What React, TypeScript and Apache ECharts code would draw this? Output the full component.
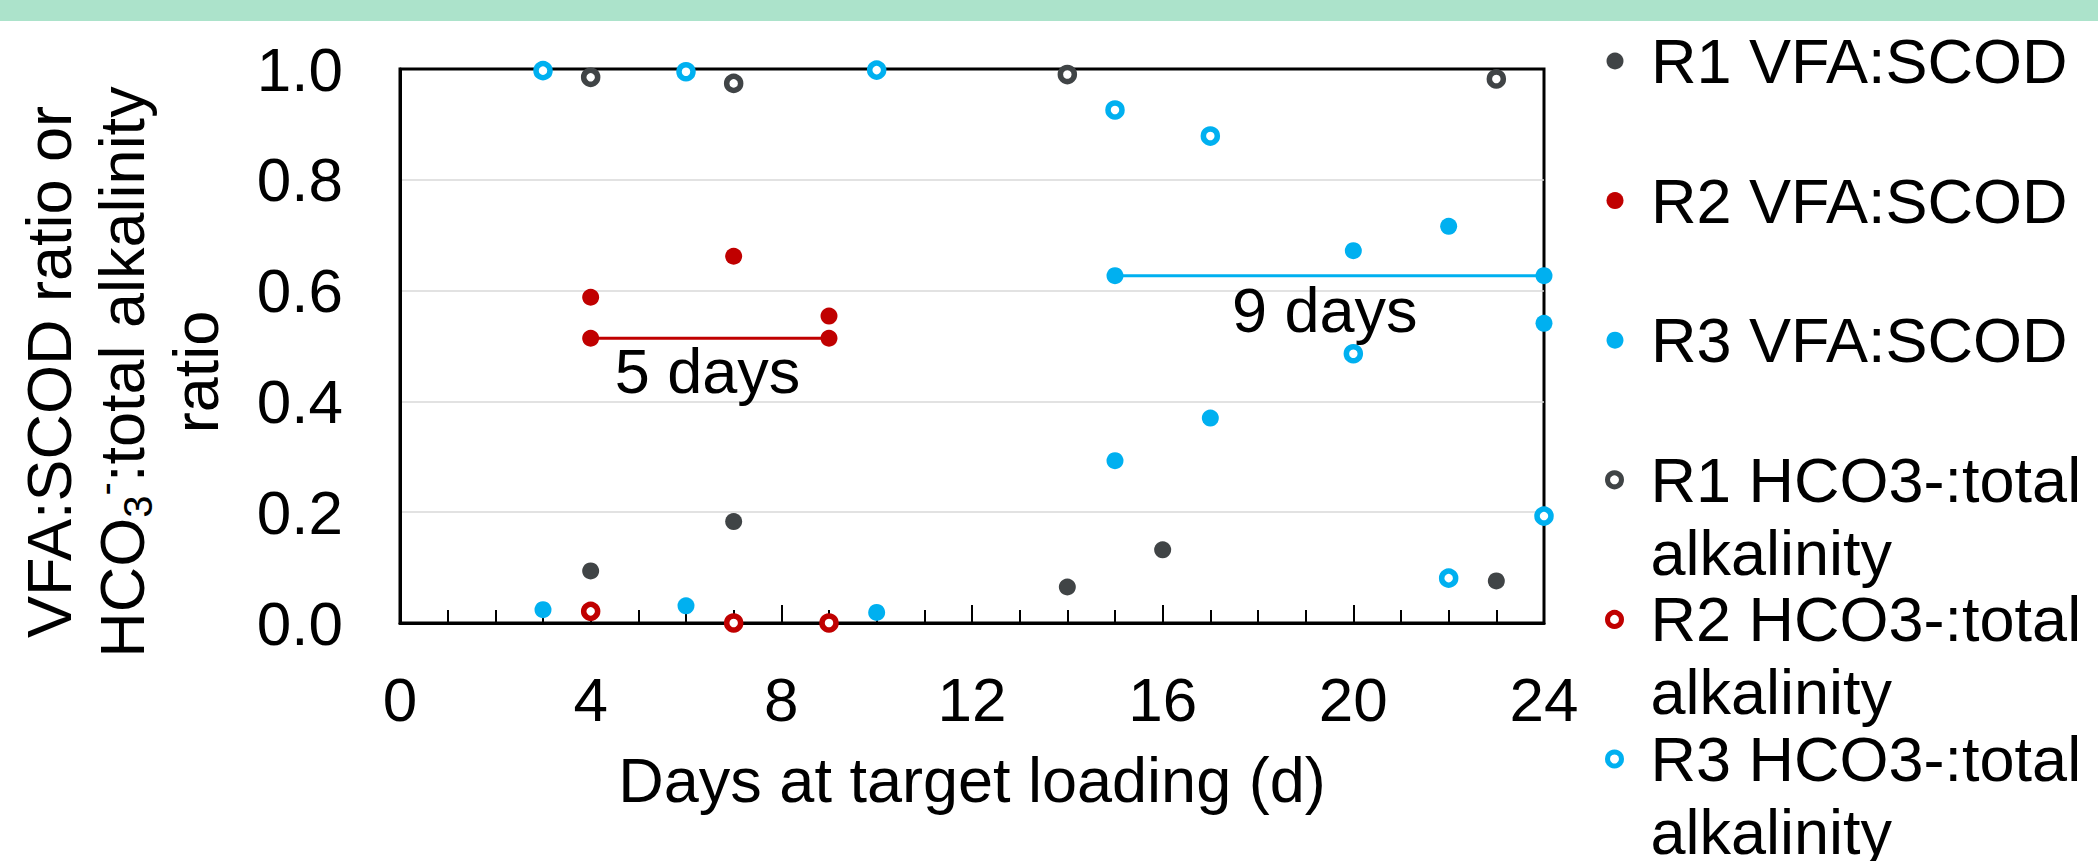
import React, { useEffect, useRef } from "react";
import * as echarts from "echarts";

const FONT = '"Liberation Sans", Arial, Helvetica, sans-serif';

// ---- data ----
const R1_VFA_DAYS = [4, 7, 14, 16, 23];
const R1_VFA = [0.094, 0.183, 0.065, 0.132, 0.076];

const R2_VFA_DAYS = [4, 7, 9];
const R2_VFA = [0.588, 0.662, 0.554];

const R3_VFA_DAYS = [3, 6, 10, 15, 17, 20, 22, 24];
const R3_VFA = [0.024, 0.031, 0.019, 0.293, 0.37, 0.672, 0.716, 0.541];

const R1_HCO3_DAYS = [4, 7, 14, 23];
const R1_HCO3 = [0.985, 0.974, 0.99, 0.982];

const R2_HCO3_DAYS = [4, 7, 9];
const R2_HCO3 = [0.021, 0.0, 0.0];

const R3_HCO3_DAYS = [3, 6, 10, 15, 17, 20, 22, 24];
const R3_HCO3 = [0.997, 0.995, 0.998, 0.926, 0.879, 0.486, 0.081, 0.193];

const SPAN5_DAYS = [4, 9];
const SPAN5_VALUE = 0.514;
const SPAN9_DAYS = [15, 24];
const SPAN9_VALUE = 0.627;

const ANNOT_TEXT = ["5 days", "9 days"];
const ANNOT_DAYS = [6.45, 19.4];
const ANNOT_VALUES = [0.455, 0.565];

const SERIES_NAMES = [
  "R1 VFA:SCOD",
  "R2 VFA:SCOD",
  "R3 VFA:SCOD",
  "R1 HCO3-:total alkalinity",
  "R2 HCO3-:total alkalinity",
  "R3 HCO3-:total alkalinity",
];

const X_MIN = 0;
const X_MAX = 24;
const X_INTERVAL = 4;
const Y_MIN = 0;
const Y_MAX = 1;
const Y_INTERVAL = 0.2;

const X_TITLE = "Days at target loading (d)";

// ---- styles ----
const GRAY = "#404446";
const RED = "#C00000";
const BLUE = "#00B0F0";

const zip = (xs: number[], ys: number[]) => xs.map((x, i) => [x, ys[i]]);

function filledSeries(name: string, color: string, days: number[], vals: number[]) {
  return {
    type: "scatter",
    name,
    data: zip(days, vals),
    symbol: "circle",
    symbolSize: 17,
    itemStyle: { color, borderWidth: 0, opacity: 1 },
    clip: false,
    silent: true,
    z: 3,
  };
}

function hollowSeries(name: string, color: string, days: number[], vals: number[]) {
  return {
    type: "scatter",
    name,
    data: zip(days, vals),
    symbol: "circle",
    symbolSize: 14,
    itemStyle: { color: "#ffffff", borderColor: color, borderWidth: 5.5, opacity: 1 },
    clip: false,
    silent: true,
    z: 4,
  };
}

function spanSeries(name: string, color: string, days: number[], value: number) {
  return {
    type: "line",
    name,
    data: days.map((d) => [d, value]),
    symbol: "circle",
    symbolSize: 17,
    showSymbol: true,
    lineStyle: { color, width: 3 },
    itemStyle: { color, opacity: 1 },
    clip: false,
    silent: true,
    z: 3,
  };
}

const LEGEND_CENTERS = [61, 200.6, 340.2, 479.8, 619.4, 759];
const LEGEND_LH = 73;

function buildLegends() {
  return SERIES_NAMES.map((name, i) => {
    const twoLine = name.indexOf("alkalinity") >= 0;
    const hollow = i >= 3;
    return {
      data: [{ name, icon: "circle" }],
      orient: "vertical",
      left: hollow ? 1605 : 1606.5,
      top: LEGEND_CENTERS[i] - (twoLine ? LEGEND_LH * 1.5 : LEGEND_LH / 2),
      padding: 0,
      itemWidth: 62,
      itemHeight: hollow ? 14 : 17,
      itemStyle: { borderWidth: hollow ? 5 : 0, opacity: 1 },
      selectedMode: false,
      formatter: (n: string) =>
        n.indexOf(" alkalinity") >= 0 ? " \n" + n.replace(" alkalinity", "\nalkalinity") : n,
      textStyle: {
        fontSize: 63,
        fontFamily: FONT,
        color: "#000",
        lineHeight: LEGEND_LH,
      },
    };
  });
}

export default function App() {
  const ref = useRef<HTMLDivElement>(null);

  useEffect(() => {
    document.body.style.margin = "0";
    const chart = echarts.init(ref.current as HTMLDivElement, null, { renderer: "svg" });

    const option: any = {
      animation: false,
      backgroundColor: "#ffffff",
      grid: {
        left: 400,
        top: 69,
        right: 554,
        bottom: 238,
        show: true,
        borderColor: "#000",
        borderWidth: 3,
        backgroundColor: "transparent",
      },
      xAxis: {
        type: "value",
        min: X_MIN,
        max: X_MAX,
        interval: X_INTERVAL,
        axisLine: { show: true, onZero: false, lineStyle: { color: "#000", width: 3 } },
        axisTick: { show: true, inside: true, length: 18, lineStyle: { color: "#000", width: 2 } },
        minorTick: { show: true, splitNumber: 4, length: 13, lineStyle: { color: "#000", width: 2 } },
        splitLine: { show: false },
        axisLabel: { fontSize: 62, fontFamily: FONT, color: "#000", margin: 45 },
        name: X_TITLE,
        nameLocation: "middle",
        nameGap: 125,
        nameTextStyle: { fontSize: 63, fontFamily: FONT, color: "#000" },
      },
      yAxis: {
        type: "value",
        min: Y_MIN,
        max: Y_MAX,
        interval: Y_INTERVAL,
        axisLine: { show: true, lineStyle: { color: "#000", width: 3 } },
        axisTick: { show: false },
        splitLine: {
          show: true,
          showMinLine: false,
          showMaxLine: false,
          lineStyle: { color: "#D9D9D9", width: 1.5 },
        },
        axisLabel: {
          fontSize: 62,
          fontFamily: FONT,
          color: "#000",
          margin: 57,
          formatter: (v: number) => v.toFixed(1),
        },
      },
      legend: buildLegends(),
      graphic: [
        { type: "rect", left: 0, top: 0, shape: { x: 0, y: 0, width: 2098, height: 21 }, style: { fill: "#ACE3CB" }, silent: true },
        {
          type: "text",
          x: 48.5,
          y: 372,
          rotation: Math.PI / 2,
          silent: true,
          style: {
            text: "VFA:SCOD ratio or",
            fontSize: 63,
            fontFamily: FONT,
            fill: "#000",
            align: "center",
            verticalAlign: "middle",
          },
        },
        {
          type: "text",
          x: 121.5,
          y: 372,
          rotation: Math.PI / 2,
          silent: true,
          style: {
            text: "HCO{sub|3}{sup|-}:total alkalinity",
            fontSize: 63,
            fontFamily: FONT,
            fill: "#000",
            lineHeight: 73,
            align: "center",
            verticalAlign: "middle",
            rich: {
              sub: { fontSize: 40, fontFamily: FONT, fill: "#000", lineHeight: 26, verticalAlign: "bottom" },
              sup: { fontSize: 40, fontFamily: FONT, fill: "#000", lineHeight: 57, verticalAlign: "top" },
            },
          },
        },
        {
          type: "text",
          x: 195.5,
          y: 372,
          rotation: Math.PI / 2,
          silent: true,
          style: {
            text: "ratio",
            fontSize: 63,
            fontFamily: FONT,
            fill: "#000",
            align: "center",
            verticalAlign: "middle",
          },
        },
      ],
      series: [
        spanSeries("5 days span", RED, SPAN5_DAYS, SPAN5_VALUE),
        spanSeries("9 days span", BLUE, SPAN9_DAYS, SPAN9_VALUE),
        filledSeries(SERIES_NAMES[0], GRAY, R1_VFA_DAYS, R1_VFA),
        filledSeries(SERIES_NAMES[1], RED, R2_VFA_DAYS, R2_VFA),
        filledSeries(SERIES_NAMES[2], BLUE, R3_VFA_DAYS, R3_VFA),
        hollowSeries(SERIES_NAMES[3], GRAY, R1_HCO3_DAYS, R1_HCO3),
        hollowSeries(SERIES_NAMES[4], RED, R2_HCO3_DAYS, R2_HCO3),
        hollowSeries(SERIES_NAMES[5], BLUE, R3_HCO3_DAYS, R3_HCO3),
        {
          type: "scatter",
          name: "annotations",
          data: ANNOT_TEXT.map((t, i) => ({ name: t, value: [ANNOT_DAYS[i], ANNOT_VALUES[i]] })),
          symbolSize: 0,
          silent: true,
          clip: false,
          itemStyle: { color: "#000", opacity: 1 },
          label: {
            show: true,
            position: "inside",
            formatter: "{b}",
            fontSize: 63,
            fontFamily: FONT,
            color: "#000",
            textBorderWidth: 0,
            textBorderColor: "transparent",
          },
          z: 5,
        },
      ],
    };

    chart.setOption(option);
    return () => chart.dispose();
  }, []);

  return <div ref={ref} style={{ width: 2098, height: 861 }} />;
}
